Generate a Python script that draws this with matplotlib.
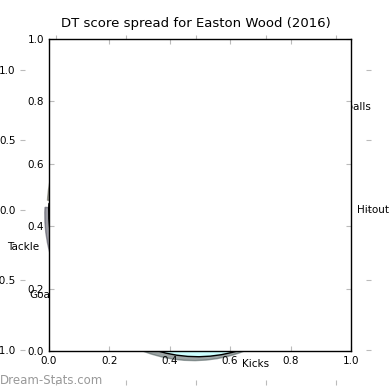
import matplotlib
matplotlib.use("Agg")
import matplotlib.pyplot as plt
import numpy as np

# DT points by category
cats = ['Hitout', 'Handballs', 'Marks', 'Tackle', 'Goals', 'Kicks']
points = [0, 24, 29, 10, 1, 44]
colours = ['#ffcccc', '#ccffcc', '#ffffcc', '#ccccff', '#ffccff', '#ccffff']
player = 'Easton Wood'
season = 2016

fig = plt.figure(figsize=(3.9, 3.9), dpi=100)

# pie axes (ends up mostly behind the empty subplot)
axp = fig.add_axes([20/390, 5/390, 351/390, 350/390])
axp.pie(points, labels=cats, colors=colours, explode=[0.05]*len(points),
        shadow=True, startangle=0, labeldistance=1.1, frame=True,
        wedgeprops={'edgecolor': 'black', 'linewidth': 1},
        textprops={'fontsize': 7.5})
axp.set_xlim(-1.25, 1.25)
axp.set_ylim(-1.25, 1.25)
axp.set_xticks(np.arange(-1, 1.01, 0.5))
axp.set_yticks(np.arange(-1, 1.01, 0.5))
for s in axp.spines.values():
    s.set_visible(False)
axp.tick_params(direction='in', color='#bbbbbb', length=3.5, labelsize=7.5,
                top=True, right=True)
axp.set_title('DT score spread for %s (%d)' % (player, season), fontsize=9.5)

# the blank default subplot drawn over it
ax = fig.add_axes([0.125, 0.1, 0.775, 0.8])
ax.set_facecolor('white')
ax.tick_params(direction='in', color='#bbbbbb', length=3.5, labelsize=7.5,
               top=True, right=True)
for s in ax.spines.values():
    s.set_linewidth(1)

fig.text(0.0, 10/390, 'Dream-Stats.com', color='#999999', fontsize=8.5,
         va='center', ha='left')

fig.savefig('out.png', dpi=100)
